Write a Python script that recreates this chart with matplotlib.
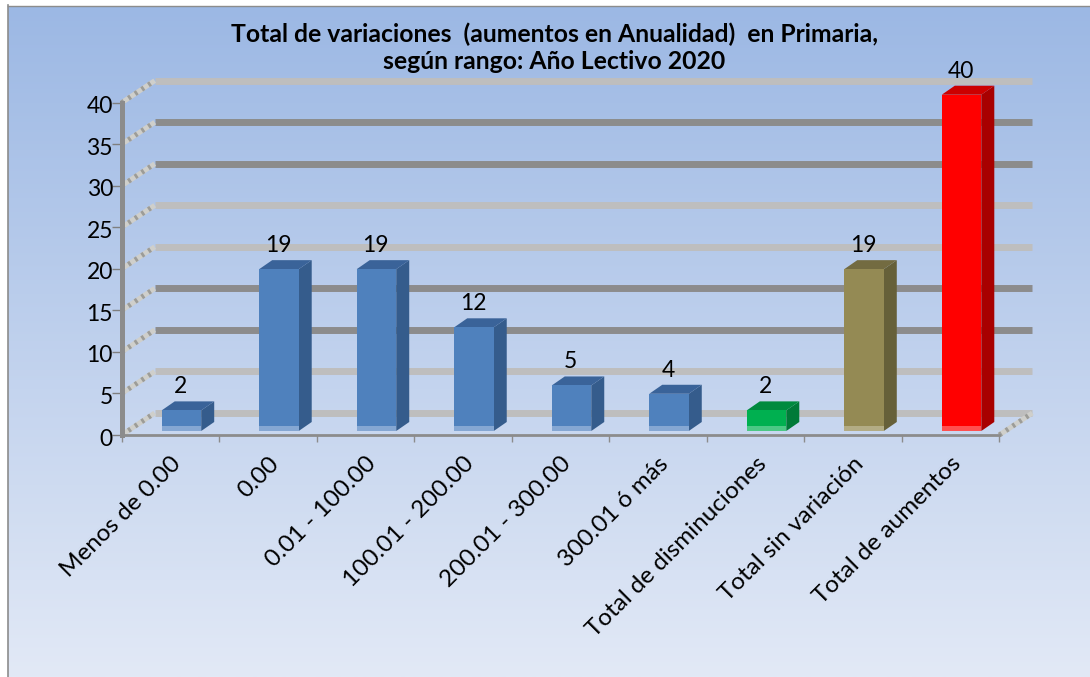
import numpy as np
import matplotlib
matplotlib.use("Agg")
import matplotlib.pyplot as plt
from matplotlib.patches import Polygon
from matplotlib.transforms import ScaledTranslation

categories = ["Menos de 0.00", "0.00", "0.01 - 100.00", "100.01 - 200.00", "200.01 - 300.00",
              "300.01 ó más", "Total de disminuciones", "Total sin variación", "Total de aumentos"]
values = [2, 19, 19, 12, 5, 4, 2, 19, 40]
front_colors = ["#4F81BD"] * 6 + ["#00B050", "#948A54", "#FF0000"]
side_colors = ["#355C8C"] * 6 + ["#007A38", "#666039", "#A80000"]
top_colors = ["#3A6399"] * 6 + ["#008A3E", "#736B41", "#CC0000"]
foot_colors = ["#85A7D3"] * 6 + ["#4CC885", "#B3AC85", "#FF5050"]
y_ticks = [0, 5, 10, 15, 20, 25, 30, 35, 40]
wall_colors = ["#BEBEBE", "#BEBEBE", "#8C8C8C", "#8C8C8C", "#BEBEBE", "#BEBEBE", "#8C8C8C", "#8C8C8C", "#BEBEBE"]
title = "Total de variaciones  (aumentos en Anualidad)  en Primaria,\nsegún rango: Año Lectivo 2020"

W, H = 1090, 677
plt.rcParams["font.family"] = ["Lato", "DejaVu Sans"]
fig = plt.figure(figsize=(W / 100, H / 100), dpi=100, facecolor="white")

bg = fig.add_axes([8 / W, 0, (W - 8) / W, 1 - 6 / H])
grad = np.linspace(0, 1, 256)[:, None]
c0, c1 = np.array([0x9C, 0xB8, 0xE4]) / 255, np.array([0xE2, 0xE9, 0xF6]) / 255
bg.imshow(c0 + (c1 - c0) * grad[..., None], aspect="auto", extent=(0, 1, 0, 1))
bg.axis("off")
fig.add_artist(plt.Line2D([7.5 / W, 7.5 / W], [0, 1 - 5 / H], color="#8C8C8C", lw=1.2))
fig.add_artist(plt.Line2D([7.5 / W, 1], [1 - 5.5 / H, 1 - 5.5 / H], color="#8C8C8C", lw=1.0))

L, R, Y0, Y40 = 121.7, 999.3, 435.0, 102.7
ax = fig.add_axes([L / W, 1 - Y0 / H, (R - L) / W, (Y0 - Y40) / H])
ax.set_xlim(-0.5, 8.5)
ax.set_ylim(0, 40)
ax.patch.set_alpha(0)
ux, uy = (R - L) / 9, (Y0 - Y40) / 40
PX = lambda p: p / ux
PY = lambda p: p / uy

# back wall and side wall
wall_dx, wall_dy = PX(33), PY(22)
hatch = dict(lw=3.6, clip_on=False)
for v, c in zip(y_ticks, wall_colors):
    ax.plot([-0.5 + wall_dx, 8.5 + wall_dx], [v + wall_dy, v + wall_dy], color=c, lw=5,
            solid_capstyle="butt", clip_on=False, zorder=1)
    ax.plot([-0.5, -0.5 + wall_dx], [v, v + wall_dy], color="#CFCFCB", solid_capstyle="butt",
            zorder=1, **hatch)
    ax.plot([-0.5, -0.5 + wall_dx], [v, v + wall_dy], color="#9C9C98", linestyle=(0, (0.55, 1.05)),
            dash_capstyle="butt", zorder=1.1, **hatch)
ax.plot([8.5, 8.5 + wall_dx], [0, wall_dy], color="#CFCFCB", solid_capstyle="butt", zorder=1, **hatch)
ax.plot([8.5, 8.5 + wall_dx], [0, wall_dy], color="#9C9C98", linestyle=(0, (0.55, 1.05)),
        dash_capstyle="butt", zorder=1.1, **hatch)

# bars
x = np.arange(len(values))
bw = PX(39.5)
cx = x + PX(11)
base = PY(8)
foot = PY(4)
ddx, ddy = PX(13), PY(9)
ax.bar(cx, values, width=bw, bottom=base, color=front_colors, zorder=3, clip_on=False)
ax.bar(cx, [PY(5)] * len(values), width=bw, bottom=foot, color=foot_colors, zorder=3.1, clip_on=False)
for xc, v, cs, ct in zip(cx, values, side_colors, top_colors):
    l, r = xc - bw / 2, xc + bw / 2
    t = base + v
    ax.add_patch(Polygon([(r, foot), (r + ddx, foot + ddy), (r + ddx, t + ddy), (r, t)], closed=True,
                         facecolor=cs, edgecolor="none", zorder=2.9, clip_on=False))
    ax.add_patch(Polygon([(l, t), (l + ddx, t + ddy), (r + ddx, t + ddy), (r, t)], closed=True,
                         facecolor=ct, edgecolor="none", zorder=2.9, clip_on=False))
    ax.annotate(str(v), (xc - PX(1), t + ddy), xytext=(0, 3), textcoords="offset points",
                ha="center", va="bottom", fontsize=16.5, color="black", zorder=5,
                annotation_clip=False)

# axes
for s in ["top", "right"]:
    ax.spines[s].set_visible(False)
ax.spines["left"].set_color("#8C8C8C")
ax.spines["left"].set_linewidth(3.6)
ax.spines["bottom"].set_color("#8C8C8C")
ax.spines["bottom"].set_linewidth(2.0)
ax.set_yticks(y_ticks)
ax.set_yticklabels([str(v) for v in y_ticks])
ax.set_xticks(np.arange(-0.5, 9, 1))
ax.set_xticklabels([])
ax.set_xticks(x, minor=True)
ax.set_xticklabels(categories, minor=True, rotation=45, ha="right", va="top",
                   rotation_mode="anchor", fontsize=17.5)
ax.tick_params(axis="x", which="minor", length=0, pad=13)
ax.tick_params(axis="x", which="major", length=5, width=1, color="#8C8C8C")
ax.tick_params(axis="y", length=7, width=1, color="#7F7F7F", labelsize=16.5, pad=0)
shift = ScaledTranslation(1 / 100, -2 / 100, fig.dpi_scale_trans)
for lab in ax.get_yticklabels():
    lab.set_transform(lab.get_transform() + shift)

fig.text(554.5 / W, 1 - 47.5 / H, title, ha="center", va="center", fontsize=17.8, fontweight="bold",
         color="black", linespacing=1.2)

fig.savefig("out.png", dpi=100)
